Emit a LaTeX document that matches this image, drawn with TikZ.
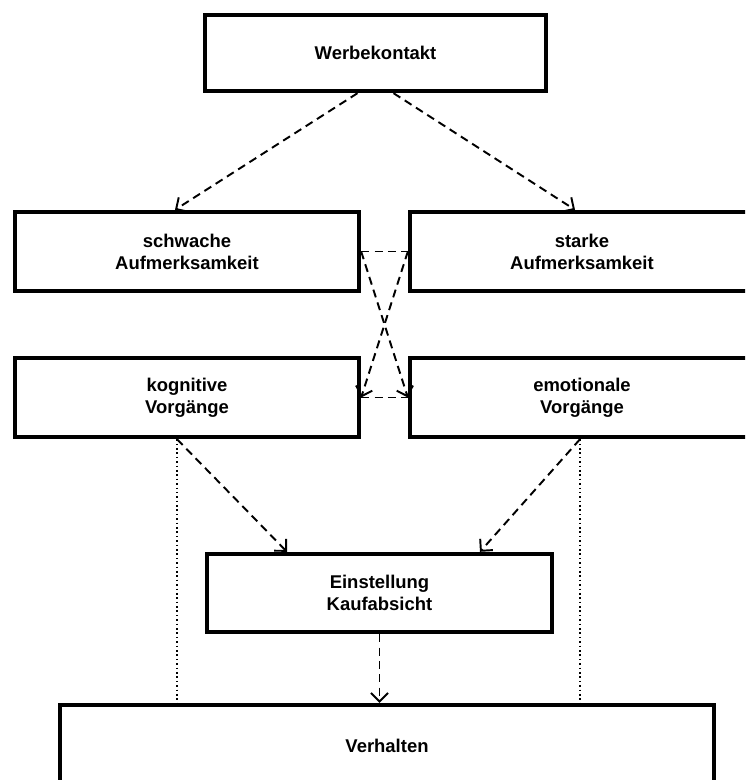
\documentclass[tikz,border=0pt]{standalone}
\usepackage{fontspec}
\setmainfont{Liberation Sans}
\usetikzlibrary{arrows.meta}
\begin{document}
\begin{tikzpicture}[x=0.02cm, y=-0.02cm,
  box/.style={draw, line width=2.5pt, align=center, minimum width=6.88cm, minimum height=1.58cm, font=\fontsize{10.5}{12.5}\selectfont\bfseries},
  flow/.style={line width=1.1pt, dash pattern=on 4.6pt off 3pt, -{Straight Barb[length=1.7mm,width=3.4mm]}},
  link/.style={line width=1.1pt, dash pattern=on 4.6pt off 3pt},
  guide/.style={line width=0.9pt, dash pattern=on 0.9pt off 1.6pt}]
\useasboundingbox (0,0) rectangle (745,780);
\clip (0,0) rectangle (745,780);
\node[box, minimum width=6.82cm, minimum height=1.52cm] (werbung) at (375.5,53) {Werbekontakt};
\node[box] (schwach) at (187,251.5) {schwache\\Aufmerksamkeit};
\node[box] (stark) at (582,251.5) {starke\\Aufmerksamkeit};
\node[box] (kogn) at (187,397.5) {kognitive\\Vorgänge};
\node[box] (emot) at (582,397.5) {emotionale\\Vorgänge};
\node[box, minimum width=6.9cm, minimum height=1.56cm] (einst) at (379.5,593) {Einstellung\\Kaufabsicht};
\node[box, minimum width=13.08cm, minimum height=1.64cm] (verh) at (387,746) {Verhalten};
\draw[flow] ([xshift=-0.36cm]werbung.south) -- ([xshift=-0.24cm]schwach.north);
\draw[flow] ([xshift=0.36cm]werbung.south) -- ([xshift=-0.14cm]stark.north);
\draw[link] (schwach.east) -- (stark.west);
\draw[link] (kogn.east) -- (emot.west);
\draw[flow] (schwach.east) -- (emot.west);
\draw[flow] (stark.west) -- (kogn.east);
\draw[flow] ([xshift=-0.2cm]kogn.south) -- ([xshift=-1.85cm]einst.north);
\draw[flow] ([xshift=-0.04cm]emot.south) -- ([xshift=2.01cm]einst.north);
\draw[guide] ([xshift=-0.2cm]kogn.south) -- ([xshift=-0.2cm]kogn.south |- verh.north);
\draw[guide] ([xshift=-0.04cm]emot.south) -- ([xshift=-0.04cm]emot.south |- verh.north);
\draw[flow] (einst.south) -- (einst.south |- verh.north);
\end{tikzpicture}
\end{document}
